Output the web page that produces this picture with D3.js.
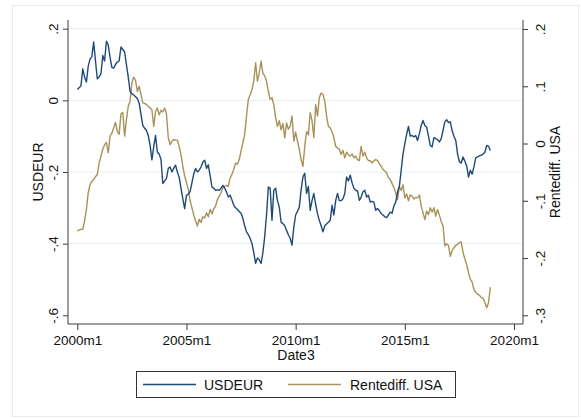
<!DOCTYPE html>
<html>
<head>
<meta charset="utf-8">
<script src="https://cdn.jsdelivr.net/npm/d3@7"></script>
<style>
  html, body { margin: 0; padding: 0; background: #ffffff; }
  svg text { font-family: "Liberation Sans", Arial, Helvetica, sans-serif; fill: #111; }
</style>
</head>
<body>
<svg id="chart" width="581" height="418"></svg>
<script>
// Monthly series, 2000m1 .. 2018m12
const startYear = 2000;

const usdeur = [
  0.030, 0.035, 0.040, 0.088, 0.065, 0.051, 0.095, 0.115, 0.122, 0.163, 0.110, 0.060,
  0.065, 0.075, 0.125, 0.110, 0.165, 0.155, 0.120, 0.092, 0.090, 0.100, 0.107, 0.110,
  0.149, 0.142, 0.135, 0.100, 0.065, 0.025, 0.018, 0.015, 0.010, 0.005, -0.008, -0.040,
  -0.070, -0.078, -0.084, -0.098, -0.125, -0.166, -0.130, -0.098, -0.145, -0.150, -0.165, -0.232,
  -0.225, -0.218, -0.190, -0.186, -0.200, -0.190, -0.181, -0.200, -0.215, -0.246, -0.275, -0.302,
  -0.265, -0.262, -0.255, -0.230, -0.205, -0.190, -0.200, -0.195, -0.186, -0.172, -0.167, -0.190,
  -0.180, -0.210, -0.242, -0.245, -0.251, -0.250, -0.251, -0.245, -0.237, -0.245, -0.256, -0.270,
  -0.265, -0.278, -0.293, -0.300, -0.305, -0.310, -0.315, -0.330, -0.350, -0.367, -0.375, -0.385,
  -0.400, -0.425, -0.455, -0.440, -0.445, -0.455, -0.425, -0.380, -0.320, -0.242, -0.245, -0.335,
  -0.251, -0.245, -0.280, -0.298, -0.340, -0.344, -0.350, -0.363, -0.375, -0.385, -0.404, -0.353,
  -0.320, -0.310, -0.298, -0.250, -0.214, -0.204, -0.260, -0.240, -0.307, -0.280, -0.260, -0.290,
  -0.316, -0.335, -0.350, -0.367, -0.350, -0.345, -0.340, -0.335, -0.293, -0.320, -0.280, -0.260,
  -0.280, -0.280, -0.275, -0.260, -0.214, -0.225, -0.209, -0.230, -0.245, -0.251, -0.253, -0.279,
  -0.270, -0.255, -0.251, -0.270, -0.265, -0.284, -0.282, -0.284, -0.307, -0.302, -0.308, -0.316,
  -0.320, -0.325, -0.327, -0.320, -0.312, -0.315, -0.295, -0.284, -0.256, -0.240, -0.195, -0.150,
  -0.121, -0.095, -0.073, -0.100, -0.098, -0.102, -0.098, -0.112, -0.093, -0.070, -0.056, -0.070,
  -0.075, -0.100, -0.126, -0.130, -0.104, -0.107, -0.110, -0.116, -0.107, -0.084, -0.060, -0.054,
  -0.062, -0.060, -0.085, -0.100, -0.112, -0.150, -0.172, -0.175, -0.158, -0.170, -0.183, -0.214,
  -0.195, -0.206, -0.185, -0.160, -0.158, -0.155, -0.153, -0.150, -0.145, -0.126, -0.128, -0.140
];

const rentediff = [
  -0.153, -0.151, -0.150, -0.150, -0.135, -0.115, -0.086, -0.072, -0.066, -0.063, -0.058, -0.054,
  -0.034, -0.022, -0.010, -0.002, 0.002, -0.016, 0.013, 0.018, 0.027, 0.037, 0.021, 0.016,
  0.052, 0.054, 0.013, 0.042, 0.065, 0.074, 0.106, 0.116, 0.110, 0.091, 0.100, 0.085,
  0.071, 0.070, 0.068, 0.065, 0.062, 0.059, 0.030, 0.056, 0.062, 0.050, 0.058, 0.055,
  0.062, 0.052, 0.010, -0.002, 0.004, 0.007, 0.006, 0.006, -0.005, -0.020, -0.040, -0.057,
  -0.068, -0.080, -0.100, -0.112, -0.125, -0.135, -0.144, -0.132, -0.138, -0.128, -0.130, -0.121,
  -0.128, -0.115, -0.123, -0.114, -0.109, -0.098, -0.092, -0.086, -0.077, -0.075, -0.073, -0.075,
  -0.060, -0.054, -0.045, -0.034, -0.036, -0.028, -0.013, 0.001, 0.016, 0.048, 0.077, 0.085,
  0.094, 0.109, 0.141, 0.109, 0.123, 0.144, 0.123, 0.118, 0.109, 0.091, 0.077, 0.080,
  0.068, 0.045, 0.030, 0.040, 0.024, 0.035, 0.010, 0.036, 0.025, 0.030, 0.048, 0.004,
  0.020, 0.004, -0.010, -0.028, -0.040, -0.005, 0.021, 0.015, 0.054, 0.040, 0.010, 0.068,
  0.048, 0.080, 0.088, 0.086, 0.074, 0.048, 0.030, 0.027, 0.020, 0.010, -0.005, -0.008,
  -0.010, -0.019, -0.012, -0.025, -0.015, -0.020, -0.022, -0.018, -0.025, -0.022, -0.028, -0.030,
  -0.005, -0.022, -0.015, -0.025, -0.030, -0.030, -0.034, -0.030, -0.028, -0.030, -0.035, -0.040,
  -0.045, -0.048, -0.051, -0.060, -0.063, -0.070, -0.077, -0.086, -0.098, -0.075, -0.082, -0.072,
  -0.095, -0.088, -0.100, -0.090, -0.092, -0.097, -0.094, -0.095, -0.090, -0.109, -0.121, -0.133,
  -0.118, -0.124, -0.112, -0.120, -0.112, -0.127, -0.115, -0.125, -0.136, -0.144, -0.179, -0.175,
  -0.178, -0.197, -0.187, -0.182, -0.178, -0.176, -0.173, -0.172, -0.190, -0.202, -0.211, -0.226,
  -0.237, -0.242, -0.255, -0.260, -0.263, -0.265, -0.269, -0.270, -0.278, -0.287, -0.278, -0.251
];

// Axis ticks
const xTickMonths = [0, 60, 120, 180, 240];
const xTickLabels = ["2000m1", "2005m1", "2010m1", "2015m1", "2020m1"];
const leftTicks = [0.2, 0, -0.2, -0.4, -0.6];
const leftTickLabels = [".2", "0", "-.2", "-.4", "-.6"];
const rightTicks = [0.2, 0.1, 0, -0.1, -0.2, -0.3];
const rightTickLabels = [".2", ".1", "0", "-.1", "-.2", "-.3"];

const seriesNames = ["USDEUR", "Rentediff. USA"];
const colors = ["#1f4a77", "#a7925a"];

const svg = d3.select("#chart");

// plot region
const plot = { left: 68, right: 523, top: 20, bottom: 324 };

// outer graph frame
svg.append("rect")
  .attr("x", 12.5).attr("y", 5.5)
  .attr("width", 566).attr("height", 411)
  .attr("fill", "#ffffff")
  .attr("stroke", "#e4ecef").attr("stroke-width", 1);

const x = d3.scaleLinear().domain([0, 240]).range([77.3, 514]);
const yL = d3.scaleLinear().domain([-0.6, 0.2]).range([315.3, 28.7]);
const yR = d3.scaleLinear().domain([-0.3, 0.2]).range([315.3, 29]);

// horizontal gridlines on the left-axis ticks
svg.append("g")
  .selectAll("line")
  .data(leftTicks.filter(v => v > -0.6))
  .join("line")
  .attr("x1", plot.left).attr("x2", plot.right)
  .attr("y1", d => yL(d)).attr("y2", d => yL(d))
  .attr("stroke", "#eaf1f4").attr("stroke-width", 1.2);

const axisColor = "#3a3a3a";
const fontSize = "13.5px";

// left axis
const gL = svg.append("g").attr("transform", `translate(${plot.left},0)`)
  .call(d3.axisLeft(yL).tickValues(leftTicks)
    .tickFormat((d, i) => leftTickLabels[i]).tickSize(5).tickSizeOuter(0));
gL.select(".domain").remove();
gL.selectAll(".tick line").attr("stroke", axisColor);
gL.selectAll(".tick text")
  .attr("x", 0).attr("dy", 0)
  .attr("transform", "translate(-10.5,0) rotate(-90)")
  .attr("text-anchor", "middle")
  .style("font-size", fontSize);

// right axis
const gR = svg.append("g").attr("transform", `translate(${plot.right},0)`)
  .call(d3.axisRight(yR).tickValues(rightTicks)
    .tickFormat((d, i) => rightTickLabels[i]).tickSize(5).tickSizeOuter(0));
gR.select(".domain").remove();
gR.selectAll(".tick line").attr("stroke", axisColor);
gR.selectAll(".tick text")
  .attr("x", 0).attr("dy", 0)
  .attr("transform", "translate(22,0) rotate(-90)")
  .attr("text-anchor", "middle")
  .style("font-size", fontSize);

// bottom axis
const gB = svg.append("g").attr("transform", `translate(0,${plot.bottom})`)
  .call(d3.axisBottom(x).tickValues(xTickMonths)
    .tickFormat((d, i) => xTickLabels[i]).tickSize(6).tickSizeOuter(0));
gB.select(".domain").remove();
gB.selectAll(".tick line").attr("stroke", axisColor);
gB.selectAll(".tick text")
  .attr("y", 21).attr("dy", 0)
  .style("font-size", fontSize);

svg.selectAll(".tick text").attr("fill", "#111");
svg.selectAll("g").attr("font-family", null);

// axis lines
svg.append("path")
  .attr("d", `M${plot.left},${plot.top}V${plot.bottom}H${plot.right}V${plot.top}`)
  .attr("fill", "none").attr("stroke", axisColor).attr("stroke-width", 1);

// axis titles
svg.append("text")
  .attr("transform", `translate(42.5,172) rotate(-90)`)
  .attr("text-anchor", "middle").style("font-size", "14px")
  .text("USDEUR");
svg.append("text")
  .attr("transform", `translate(559.5,172) rotate(-90)`)
  .attr("text-anchor", "middle").style("font-size", "14px")
  .text("Rentediff. USA");
svg.append("text")
  .attr("x", 296).attr("y", 360)
  .attr("text-anchor", "middle").style("font-size", "14px")
  .text("Date3");

// series lines
const lineL = d3.line().x((d, i) => x(i)).y(d => yL(d));
const lineR = d3.line().x((d, i) => x(i)).y(d => yR(d));

svg.append("path")
  .datum(rentediff)
  .attr("d", lineR)
  .attr("fill", "none").attr("stroke", colors[1])
  .attr("stroke-width", 1.4).attr("stroke-linejoin", "round");

svg.append("path")
  .datum(usdeur)
  .attr("d", lineL)
  .attr("fill", "none").attr("stroke", colors[0])
  .attr("stroke-width", 1.4).attr("stroke-linejoin", "round");

// legend
const legend = svg.append("g");
legend.append("rect")
  .attr("x", 136.5).attr("y", 371.5)
  .attr("width", 319).attr("height", 26)
  .attr("fill", "#ffffff").attr("stroke", "#333").attr("stroke-width", 1);

const legendItems = [
  { lx: 143, tx: 204 },
  { lx: 288, tx: 350 }
];
legendItems.forEach((it, i) => {
  legend.append("line")
    .attr("x1", it.lx).attr("x2", it.lx + 53)
    .attr("y1", 384.5).attr("y2", 384.5)
    .attr("stroke", colors[i]).attr("stroke-width", 1.3);
  legend.append("text")
    .attr("x", it.tx).attr("y", 390)
    .style("font-size", "14px")
    .text(seriesNames[i]);
});
</script>
</body>
</html>
